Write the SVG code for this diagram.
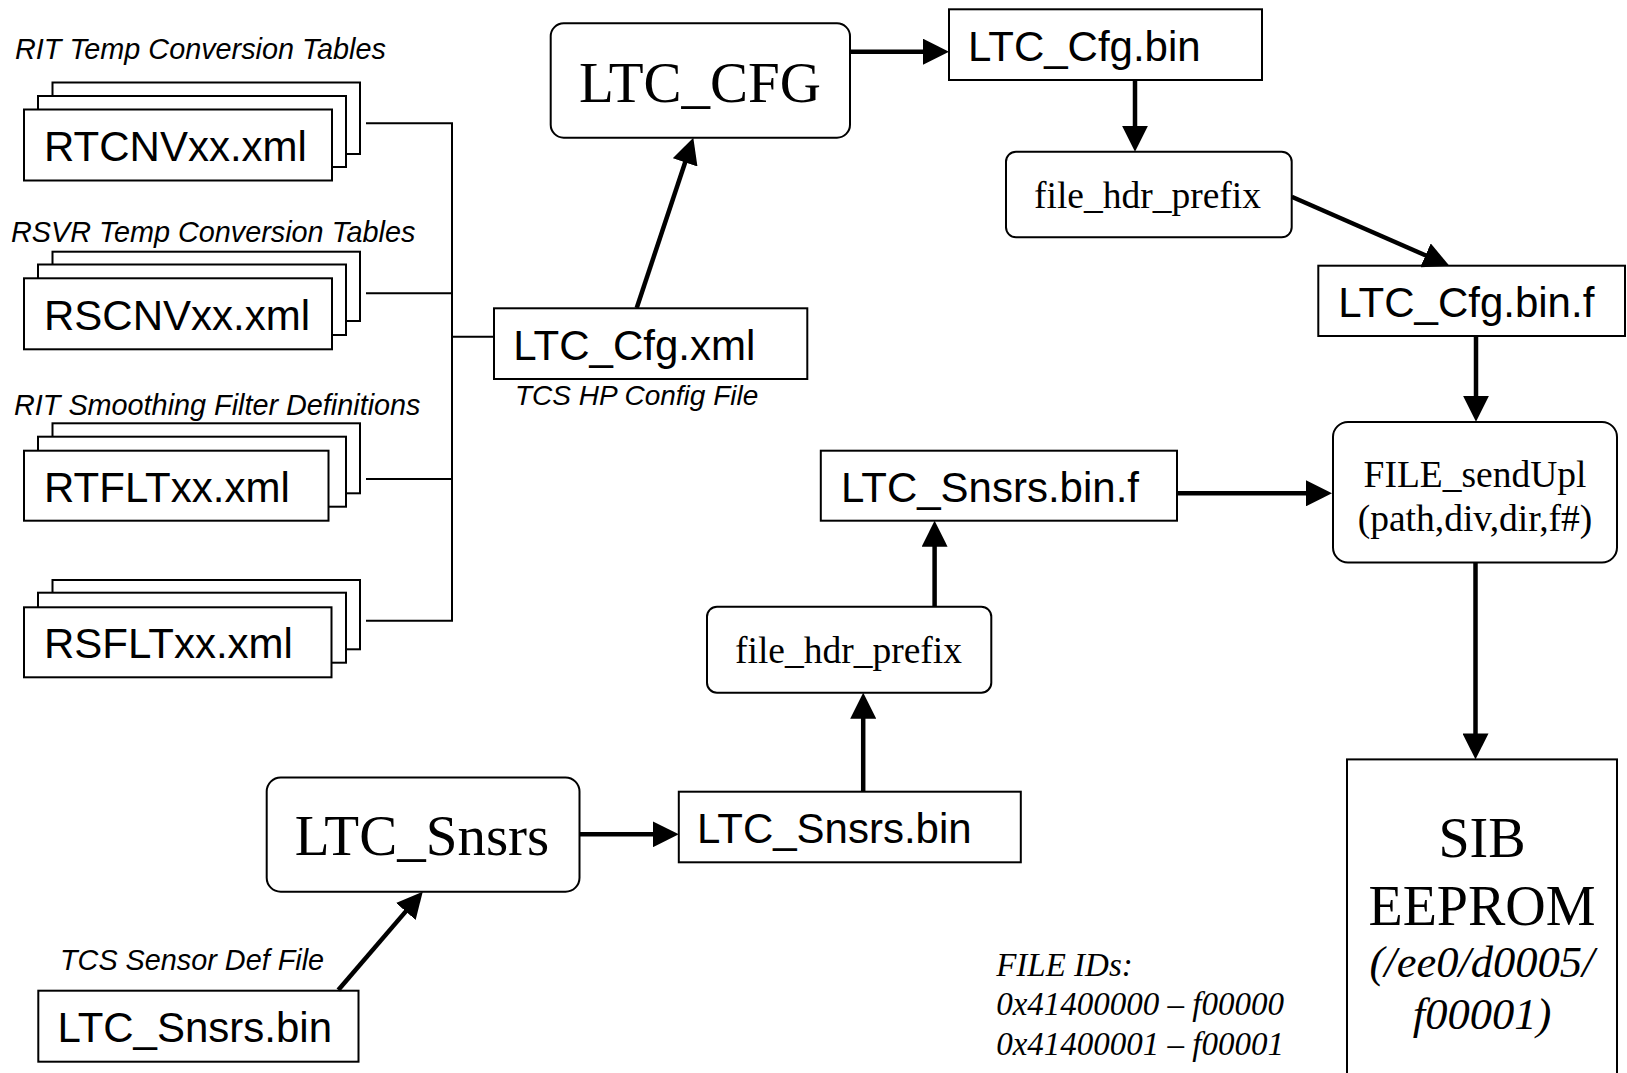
<svg xmlns="http://www.w3.org/2000/svg" width="1627" height="1073" viewBox="0 0 1627 1073">
  <style>
    .box { fill: #fff; stroke: #000; stroke-width: 2; }
    .sans { font-family: "Liberation Sans", Arial, sans-serif; fill: #000; }
    .serif { font-family: "Liberation Serif", "Times New Roman", serif; fill: #000; }
    .file { font-size: 42px; }
    .note { font-size: 28.8px; font-style: italic; }
    .proc { font-size: 37.5px; }
    .big { font-size: 57px; }
    .ids { font-size: 33px; font-style: italic; }
    .flow { stroke: #000; stroke-width: 4.5; fill: none; marker-end: url(#head); }
    .bus { stroke: #000; stroke-width: 2; fill: none; }
  </style>
  <defs>
    <marker id="head" viewBox="0 0 26 26" markerUnits="userSpaceOnUse" markerWidth="26" markerHeight="26" refX="6" refY="13" orient="auto">
      <path d="M0,0 L26,13 L0,26 z" fill="#000"/>
    </marker>
  </defs>
  <rect width="1627" height="1073" fill="#fff"/>

  <!-- table file stacks (three sheets each) -->
  <g id="rtcnv">
    <text class="sans note" x="15" y="59">RIT Temp Conversion Tables</text>
    <rect class="box" x="52.5" y="82.5" width="307.5" height="71.5"/>
    <rect class="box" x="38" y="96" width="308" height="71"/>
    <rect class="box" x="24" y="109.5" width="308" height="71"/>
    <text class="sans file" x="44" y="160.7">RTCNVxx.xml</text>
  </g>
  <g id="rscnv">
    <text class="sans note" x="11" y="241.7">RSVR Temp Conversion Tables</text>
    <rect class="box" x="52.5" y="251.7" width="307.5" height="69.3"/>
    <rect class="box" x="38" y="264.5" width="308" height="70.5"/>
    <rect class="box" x="24" y="278.3" width="308" height="71"/>
    <text class="sans file" x="44" y="330">RSCNVxx.xml</text>
  </g>
  <g id="rtflt">
    <text class="sans note" x="14" y="415">RIT Smoothing Filter Definitions</text>
    <rect class="box" x="52.5" y="423.3" width="307.5" height="70"/>
    <rect class="box" x="38" y="436.7" width="308" height="70"/>
    <rect class="box" x="24" y="450.7" width="304.5" height="70"/>
    <text class="sans file" x="44" y="501.7">RTFLTxx.xml</text>
  </g>
  <g id="rsflt">
    <rect class="box" x="52.5" y="580" width="307.5" height="69.3"/>
    <rect class="box" x="38" y="592.7" width="308" height="70"/>
    <rect class="box" x="24" y="607.3" width="307.5" height="70"/>
    <text class="sans file" x="44" y="658.3">RSFLTxx.xml</text>
  </g>

  <g id="ltc-cfg-xml">
    <rect class="box" x="494" y="308.3" width="313.3" height="70.7"/>
    <text class="sans file" x="513.3" y="360">LTC_Cfg.xml</text>
    <text class="sans" x="515" y="405" font-size="28" font-style="italic">TCS HP Config File</text>
  </g>

  <g id="ltc-cfg">
    <rect class="box" x="550.7" y="23.3" width="299.3" height="114.4" rx="13"/>
    <text class="serif big" x="700" y="101.7" text-anchor="middle">LTC_CFG</text>
  </g>

  <g id="ltc-cfg-bin">
    <rect class="box" x="949" y="9.3" width="313" height="70.7"/>
    <text class="sans file" x="968" y="60.7">LTC_Cfg.bin</text>
  </g>

  <g id="cfg-hdr-prefix">
    <rect class="box" x="1006" y="151.7" width="285.7" height="85.6" rx="10"/>
    <text class="serif proc" x="1147.5" y="208.3" text-anchor="middle">file_hdr_prefix</text>
  </g>

  <g id="ltc-cfg-bin-f">
    <rect class="box" x="1318.3" y="265.7" width="306.7" height="70.3"/>
    <text class="sans file" x="1338.3" y="316.7">LTC_Cfg.bin.f</text>
  </g>

  <g id="file-sendupl">
    <rect class="box" x="1333" y="422" width="284" height="140.5" rx="15"/>
    <text class="serif proc" x="1475" y="487" text-anchor="middle">FILE_sendUpl</text>
    <text class="serif proc" x="1475" y="531" text-anchor="middle">(path,div,dir,f#)</text>
  </g>

  <g id="sib-eeprom">
    <rect class="box" x="1347" y="759.4" width="270" height="330"/>
    <text class="serif" x="1482" y="857" font-size="56" text-anchor="middle">SIB</text>
    <text class="serif" x="1482" y="925" font-size="56" text-anchor="middle">EEPROM</text>
    <text class="serif" x="1482" y="977" font-size="44.5" font-style="italic" text-anchor="middle">(/ee0/d0005/</text>
    <text class="serif" x="1482" y="1029" font-size="44.5" font-style="italic" text-anchor="middle">f00001)</text>
  </g>

  <g id="file-ids">
    <text class="serif ids" x="996.2" y="976">FILE IDs:</text>
    <text class="serif ids" x="996.2" y="1015">0x41400000 – f00000</text>
    <text class="serif ids" x="996.2" y="1055">0x41400001 – f00001</text>
  </g>

  <g id="ltc-snsrs-bin-f">
    <rect class="box" x="820.8" y="450.7" width="356.2" height="70"/>
    <text class="sans file" x="841" y="501.7">LTC_Snsrs.bin.f</text>
  </g>

  <g id="snsrs-hdr-prefix">
    <rect class="box" x="707" y="606.7" width="284.3" height="86" rx="10"/>
    <text class="serif proc" x="848.5" y="663.3" text-anchor="middle">file_hdr_prefix</text>
  </g>

  <g id="ltc-snsrs-bin-out">
    <rect class="box" x="678.8" y="791.7" width="342" height="70.6"/>
    <text class="sans file" x="697" y="843.3">LTC_Snsrs.bin</text>
  </g>

  <g id="ltc-snsrs">
    <rect class="box" x="266.7" y="777.5" width="312.8" height="114.2" rx="14"/>
    <text class="serif big" x="422" y="855" text-anchor="middle">LTC_Snsrs</text>
  </g>

  <g id="ltc-snsrs-bin-in">
    <text class="sans note" x="60" y="970">TCS Sensor Def File</text>
    <rect class="box" x="38.3" y="990.7" width="320.2" height="71"/>
    <text class="sans file" x="57.4" y="1041.7">LTC_Snsrs.bin</text>
  </g>

  <g id="connectors">
    <!-- bracket joining the table stacks into LTC_Cfg.xml -->
    <path class="bus" d="M366,123.3 H452 M366,293.3 H452 M366,479 H452 M366,620.7 H452 M452,122.3 V621.7 M452,336.7 H494"/>
    <!-- configuration path -->
    <path class="flow" d="M636.7,308 L687,156.7"/>
    <path class="flow" d="M850,51.7 H929"/>
    <path class="flow" d="M1135,80 V131.7"/>
    <path class="flow" d="M1291.7,196.7 L1431,257.7"/>
    <path class="flow" d="M1476,336 V401.7"/>
    <path class="flow" d="M1475.5,562.5 V739.4"/>
    <!-- sensor path -->
    <path class="flow" d="M338.3,990 L409.7,906.9"/>
    <path class="flow" d="M579.5,834.3 H658.8"/>
    <path class="flow" d="M863.2,791.7 V712.7"/>
    <path class="flow" d="M934.6,606.7 V540.7"/>
    <path class="flow" d="M1177,493.3 H1312"/>
  </g>
</svg>
